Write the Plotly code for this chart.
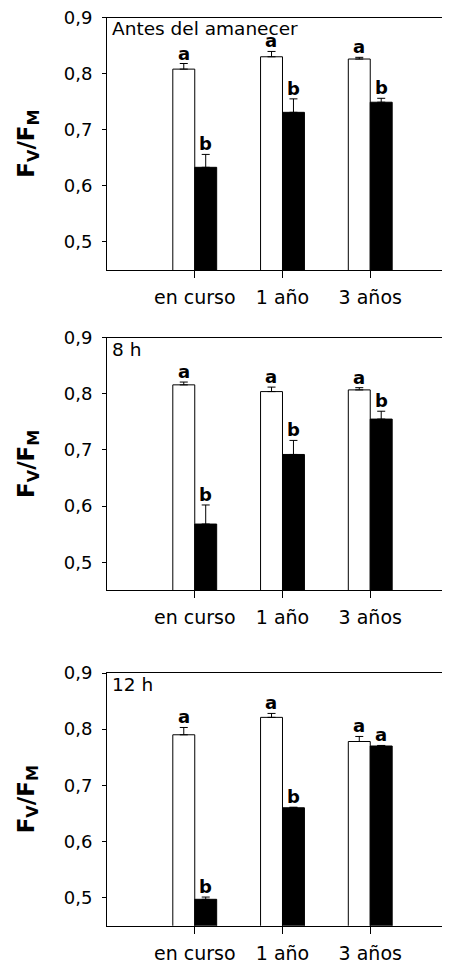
import plotly.graph_objects as go

categories = ["en curso", "1 año", "3 años"]
panel_labels = ["Antes del amanecer", "8 h", "12 h"]

white_vals = [
    [0.808, 0.830, 0.826],
    [0.816, 0.804, 0.807],
    [0.790, 0.821, 0.778],
]
white_err = [
    [0.010, 0.0095, 0.003],
    [0.005, 0.008, 0.004],
    [0.013, 0.007, 0.009],
]
black_vals = [
    [0.633, 0.731, 0.749],
    [0.568, 0.692, 0.755],
    [0.497, 0.660, 0.770],
]
black_err = [
    [0.023, 0.024, 0.007],
    [0.034, 0.025, 0.014],
    [0.004, 0.001, 0.001],
]
white_letters = [["a", "a", "a"], ["a", "a", "a"], ["a", "a", "a"]]
black_letters = [["b", "b", "b"], ["b", "b", "b"], ["b", "b", "a"]]

# page has an 8px body margin, so the figure is drawn 8px in from the corner
OFF = 8
W, H = 450 - OFF, 962 - OFF
FONT = "DejaVu Sans, Verdana, sans-serif"
# panel pixel extents in the window (top, bottom)
panels_px = [(17.5, 270), (337.7, 590.3), (673, 925.7)]
x_left_px = 107

fig = go.Figure()
layout = dict(
    template="none",
    width=W, height=H,
    margin=dict(l=0, r=0, t=0, b=0, pad=0, autoexpand=False),
    paper_bgcolor="white", plot_bgcolor="white",
    barmode="group", bargap=0.5, bargroupgap=0,
    showlegend=False,
    separators=",.",
    font=dict(family=FONT, color="black"),
)
annotations = []

for i in range(3):
    xa = "x" if i == 0 else f"x{i+1}"
    ya = "y" if i == 0 else f"y{i+1}"
    xk = "xaxis" if i == 0 else f"xaxis{i+1}"
    yk = "yaxis" if i == 0 else f"yaxis{i+1}"
    top, bot = panels_px[i]
    ydom = [1 - (bot - OFF) / H, 1 - (top - OFF) / H]

    fig.add_trace(go.Bar(
        x=categories, y=white_vals[i], xaxis=xa, yaxis=ya,
        marker=dict(color="white", line=dict(color="black", width=1)),
        error_y=dict(type="data", array=white_err[i], arrayminus=[0, 0, 0],
                     symmetric=False, color="black", thickness=1, width=4),
    ))
    fig.add_trace(go.Bar(
        x=categories, y=black_vals[i], xaxis=xa, yaxis=ya,
        marker=dict(color="black", line=dict(color="black", width=1)),
        error_y=dict(type="data", array=black_err[i], arrayminus=[0, 0, 0],
                     symmetric=False, color="black", thickness=1, width=4),
    ))

    layout[xk] = dict(
        domain=[(x_left_px - OFF) / W, 1], anchor=ya, automargin=False,
        type="category", categoryorder="array", categoryarray=categories,
        range=[-1, 2.909],
        showline=True, linecolor="black", linewidth=1, mirror=True,
        ticks="outside", ticklen=7, tickcolor="black", tickwidth=1,
        tickfont=dict(family=FONT, size=19, color="black"),
        ticklabelstandoff=3, ticklabeloverflow="allow",
        showgrid=False, zeroline=False, fixedrange=True,
    )
    layout[yk] = dict(
        domain=ydom, anchor=xa, automargin=False,
        range=[0.45, 0.9], tick0=0.5, dtick=0.1, tickformat=".1f",
        showline=True, linecolor="black", linewidth=1, mirror=False,
        ticks="outside", ticklen=4, tickcolor="black", tickwidth=1,
        tickfont=dict(family=FONT, size=18, color="black"),
        ticklabelstandoff=6, ticklabeloverflow="allow",
        showgrid=False, zeroline=False, fixedrange=True,
    )

    # y-axis title
    annotations.append(dict(
        text="<b>F<sub>V</sub>/F<sub>M</sub></b>", textangle=-90,
        xref="paper", x=(28 - OFF) / W, xanchor="center",
        yref=f"{ya} domain", y=0.5, yanchor="middle",
        showarrow=False, font=dict(family=FONT, size=23, color="black"),
    ))
    # panel label
    annotations.append(dict(
        text=panel_labels[i], xref=f"{xa} domain", x=0.008, xanchor="left",
        yref=f"{ya} domain", y=1, yanchor="top", yshift=1,
        showarrow=False, font=dict(family=FONT, size=18.5, color="black"),
    ))
    # significance letters
    for j, cat in enumerate(categories):
        annotations.append(dict(
            text=f"<b>{white_letters[i][j]}</b>", xref=xa, x=cat, xshift=-11,
            yref=ya, y=white_vals[i][j] + white_err[i][j], yanchor="bottom",
            yshift=-2,
            showarrow=False, font=dict(family=FONT, size=18, color="black"),
        ))
        annotations.append(dict(
            text=f"<b>{black_letters[i][j]}</b>", xref=xa, x=cat, xshift=11,
            yref=ya, y=black_vals[i][j] + black_err[i][j], yanchor="bottom",
            yshift=-2,
            showarrow=False, font=dict(family=FONT, size=18, color="black"),
        ))

layout["annotations"] = annotations
fig.update_layout(**layout)
fig.write_html("out.html")
